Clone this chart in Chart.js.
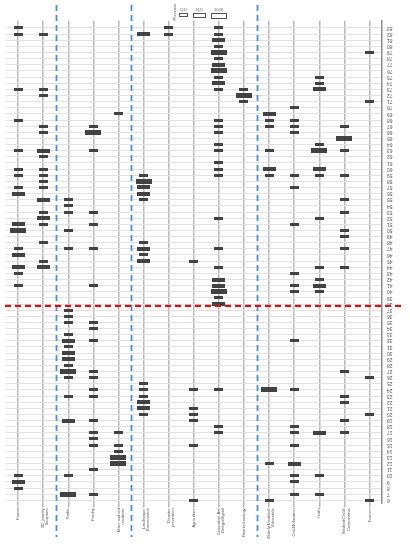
<!DOCTYPE html>
<html><head><meta charset="utf-8">
<script src="https://cdn.jsdelivr.net/npm/chart.js@4/dist/chart.umd.min.js"></script>
<style>html,body{margin:0;padding:0;background:#fff}#wrap{width:410px;height:550px;position:relative}</style>
</head><body><div id="wrap"><canvas id="c"></canvas></div>
<script>
// Column categories (bottom labels, multi-line)
const categories = [
  ["Fauna"], ["3D_jewelry", "Sculpture"], ["Traffic"], ["Facility"], ["Mass and old", "residents"],
  ["Landscape/", "Environment"], ["Disaster", "prevention"], ["Agriculture"], ["Generative Art/", "Design/Digital"], ["New technology"],
  ["Elderly/Disabled/", "Vulnerable"], ["Child/Education"], ["Youth"], ["Medical/Child/", "Comparative"], ["Tourism"]
];
// Row labels (right axis), top row first
const rowLabels = [];
for (let i = 0; i < 78; i++) rowLabels.push(String(83 - i));
// Legend sizes
const sizeLabels = ["1(1)", "5(2)", "10(3)"];
const legendTitle = "Presence";
// Group separators (between columns) and row split
const groupBreaks = [1.5, 4.5, 9.5];
const rowSplit = 45.3;

// Each series: [row index, size level]
const fauna = [[0,1],[1,1],[10,1],[15,1],[20,1],[23,1],[24,1],[26,1],[27,2],[32,2],[33,3],[36,1],[37,2],[39,2],[40,1],[42,1],[73,1],[74,2],[75,1]];
const jewelry = [[1,1],[10,1],[11,1],[16,1],[17,1],[20,2],[21,1],[23,1],[24,1],[25,1],[26,1],[28,2],[30,1],[31,2],[32,1],[35,1],[38,1],[39,2]];
const traffic = [[28,1],[29,1],[30,1],[33,1],[36,1],[46,1],[47,1],[48,1],[50,1],[51,2],[52,1],[53,2],[54,2],[55,1],[56,3],[57,1],[60,1],[64,2],[73,1],[76,3]];
const facility = [[16,1],[17,3],[20,1],[30,1],[32,1],[36,1],[42,1],[48,1],[49,1],[51,1],[56,1],[57,1],[59,1],[60,1],[64,1],[66,1],[67,1],[68,1],[72,1],[76,1]];
const residents = [[14,1],[66,1],[68,1],[69,1],[70,3],[71,3]];
const landscape = [[1,2],[24,1],[25,3],[26,2],[27,2],[28,1],[35,1],[36,2],[37,1],[38,2],[58,1],[59,1],[60,1],[61,2],[62,2],[63,1]];
const disaster = [[0,1],[1,1]];
const agriculture = [[38,1],[59,1],[62,1],[63,1],[64,1],[68,1],[77,1]];
const generative = [[0,1],[1,1],[2,2],[3,1],[4,3],[5,1],[6,2],[7,3],[8,1],[9,2],[10,1],[15,1],[16,1],[17,1],[19,1],[20,1],[22,1],[23,1],[24,1],[31,1],[36,1],[39,1],[41,2],[42,2],[43,3],[44,1],[45,2],[59,1],[65,1],[66,1]];
const newTech = [[10,1],[11,3],[12,1]];
const elderly = [[14,2],[15,1],[16,1],[20,1],[23,2],[24,1],[59,3],[71,1],[77,1]];
const child = [[13,1],[15,1],[16,1],[17,1],[24,1],[26,1],[32,1],[40,1],[42,1],[43,1],[51,1],[59,1],[65,1],[66,1],[68,1],[71,2],[73,1],[74,1],[76,1]];
const youth = [[8,1],[9,1],[10,2],[19,1],[20,3],[23,2],[24,1],[31,1],[39,1],[41,1],[42,2],[43,1],[66,2],[73,1],[76,1]];
const medical = [[16,1],[18,3],[20,1],[24,1],[28,1],[30,1],[33,1],[34,1],[36,1],[39,1],[56,1],[60,1],[61,1],[64,1],[66,1]];
const tourism = [[4,1],[12,1],[57,1],[63,1],[77,1]];

const series = [fauna, jewelry, traffic, facility, residents, landscape, disaster, agriculture, generative, newTech, elderly, child, youth, medical, tourism];

// marker glyphs for each size level
const BAR = '#424242';
const markSize = {1:[9,3], 2:[13,4], 3:[16,5]};
function makeMark(w, h, fill) {
  const c = document.createElement('canvas');
  c.width = w; c.height = h;
  const g = c.getContext('2d');
  if (fill) { g.fillStyle = BAR; g.fillRect(0, 0, w, h); }
  else { g.fillStyle = '#fff'; g.fillRect(0,0,w,h); g.strokeStyle = '#555'; g.lineWidth = 1; g.strokeRect(0.5, 0.5, w - 1, h - 1); }
  return c;
}
const marks = {}; const legendMarks = {};
for (const k in markSize) { marks[k] = makeMark(markSize[k][0], markSize[k][1], true); legendMarks[k] = makeMark(markSize[k][0], markSize[k][1] + 1, false); }

const points = [];
series.forEach((s, ci) => s.forEach(([r, lv]) => points.push({x: ci, y: r, s: lv})));

const overlay = {
  id: 'overlay',
  afterDatasetsDraw(chart) {
    const {ctx, scales: {x, y}, chartArea} = chart;
    ctx.save();
    // blue dashed group separators
    ctx.strokeStyle = '#4a90e2'; ctx.lineWidth = 1.8; ctx.setLineDash([6, 4]);
    groupBreaks.forEach(b => {
      const px = Math.round(x.getPixelForValue(b)) + 0.5;
      ctx.beginPath(); ctx.moveTo(px, 5); ctx.lineTo(px, 537); ctx.stroke();
    });
    // red dashed row split
    ctx.strokeStyle = '#e01010'; ctx.lineWidth = 2.2; ctx.setLineDash([6, 4]);
    const py = y.getPixelForValue(rowSplit);
    ctx.beginPath(); ctx.moveTo(5, py); ctx.lineTo(404, py); ctx.stroke();
    ctx.setLineDash([]);
    // right labels, upside-down text
    ctx.fillStyle = '#555'; ctx.font = '5px "Liberation Sans", Arial, sans-serif';
    ctx.textBaseline = 'middle'; ctx.textAlign = 'right';
    rowLabels.forEach((lab, i) => {
      ctx.save();
      ctx.translate(chartArea.right + 5, y.getPixelForValue(i));
      ctx.rotate(Math.PI);
      ctx.fillText(lab, 0, 0);
      ctx.restore();
    });
    // legend
    const cx = x.getPixelForValue(6.4);
    ctx.save();
    ctx.translate(cx - 4, 12); ctx.rotate(-Math.PI / 2);
    ctx.textAlign = 'center'; ctx.fillStyle = '#555'; ctx.font = '4px "Liberation Sans", Arial, sans-serif';
    ctx.fillText(legendTitle, 0, 0);
    ctx.restore();
    let lx = cx;
    [1, 2, 3].forEach((lv, i) => {
      const m = legendMarks[lv];
      ctx.drawImage(m, Math.round(lx), 13);
      ctx.textAlign = 'center'; ctx.fillStyle = '#666'; ctx.font = '4px "Liberation Sans", Arial, sans-serif';
      ctx.fillText(sizeLabels[i], lx + m.width / 2, 10);
      lx += m.width + 5;
    });
    ctx.restore();
  }
};

new Chart(document.getElementById('c'), {
  type: 'scatter',
  data: { datasets: [{
    data: points,
    pointStyle: c => marks[c.raw ? c.raw.s : 1],
    backgroundColor: BAR, borderColor: BAR
  }]},
  options: {
    responsive: true, maintainAspectRatio: false, animation: false,
    layout: { padding: { top: 20.7, left: 5.5, right: 0, bottom: 0 } },
    plugins: { legend: { display: false }, tooltip: { enabled: false } },
    scales: {
      x: {
        type: 'linear', min: -0.5, max: 14.5,
        afterBuildTicks: s => { s.ticks = categories.map((_, i) => ({value: i})); },
        afterFit: s => { s.height = 46.6; },
        grid: { color: '#b8b8b8', lineWidth: 1.5, tickLength: 4, drawOnChartArea: true },
        border: { display: false },
        ticks: {
          minRotation: 90, maxRotation: 90, autoSkip: false, padding: 1,
          color: '#555', font: { size: 4, family: '"Liberation Sans", Arial, sans-serif', lineHeight: 1.05 },
          callback: v => categories[v] || ''
        }
      },
      y: {
        type: 'linear', position: 'right', reverse: true, min: -1.19, max: 77.5,
        afterBuildTicks: s => { s.ticks = rowLabels.map((_, i) => ({value: i})); },
        afterFit: s => { s.width = 28; },
        grid: { color: '#e2e2e2', lineWidth: 1, drawTicks: false },
        border: { display: true, color: '#8a8a8a', width: 1.5 },
        ticks: { display: false }
      }
    }
  },
  plugins: [overlay]
});
</script></body></html>
